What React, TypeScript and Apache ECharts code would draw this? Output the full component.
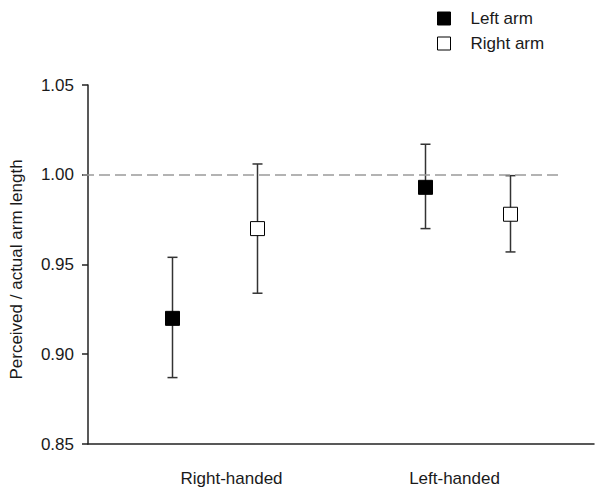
import React, { useEffect, useRef } from "react";
import * as echarts from "echarts";

const categories = ["Right-handed", "Left-handed"];
const leftArmMean = [0.920, 0.993];
const leftArmLow = [0.887, 0.970];
const leftArmHigh = [0.954, 1.017];
const rightArmMean = [0.970, 0.978];
const rightArmLow = [0.934, 0.957];
const rightArmHigh = [1.006, 0.9995];
const yTicks = { min: 0.85, max: 1.05, interval: 0.05 };
const referenceValue = 1.0;

const FONT = "'Liberation Sans', Arial, sans-serif";
const TEXT = "#1a1a1a";
const FS = 17;

function makeRender(offset: number, fill: string) {
  return (params: any, api: any) => {
    const idx = api.value(0);
    const c = api.coord([idx, api.value(1)]);
    const lo = api.coord([idx, api.value(2)]);
    const hi = api.coord([idx, api.value(3)]);
    const band = api.size([1, 0])[0];
    const x = Math.round(c[0] + offset * band) + 0.5;
    const cap = 5;
    const half = 7;
    const lineStyle = { stroke: "#333", lineWidth: 1.5 };
    return {
      type: "group",
      children: [
        { type: "line", shape: { x1: x, y1: hi[1], x2: x, y2: lo[1] }, style: lineStyle },
        { type: "line", shape: { x1: x - cap, y1: hi[1], x2: x + cap, y2: hi[1] }, style: lineStyle },
        { type: "line", shape: { x1: x - cap, y1: lo[1], x2: x + cap, y2: lo[1] }, style: lineStyle },
        {
          type: "rect",
          shape: { x: x - half, y: c[1] - half, width: half * 2, height: half * 2 },
          style: { fill, stroke: "#000", lineWidth: 1 },
        },
      ],
    };
  };
}

export default function App() {
  const ref = useRef<HTMLDivElement>(null);
  useEffect(() => {
    if (!ref.current) return;
    const chart = echarts.init(ref.current, null, { renderer: "svg" });
    const leftData = categories.map((_, i) => [i, leftArmMean[i], leftArmLow[i], leftArmHigh[i]]);
    const rightData = categories.map((_, i) => [i, rightArmMean[i], rightArmLow[i], rightArmHigh[i]]);
    chart.setOption({
      animation: false,
      backgroundColor: "#fff",
      textStyle: { fontFamily: FONT },
      grid: { left: 82, right: 6, top: 85, bottom: 48, containLabel: false },
      legend: {
        orient: "vertical",
        left: 432,
        top: 5,
        itemWidth: 13,
        itemHeight: 13,
        itemGap: 8,
        textStyle: { fontFamily: FONT, fontSize: FS, color: TEXT, padding: [0, 0, 0, 15] },
        data: [
          { name: "Left arm", icon: "rect", itemStyle: { color: "#000", borderColor: "#000", borderWidth: 1 } },
          { name: "Right arm", icon: "rect", itemStyle: { color: "#fff", borderColor: "#000", borderWidth: 1 } },
        ],
      },
      xAxis: {
        type: "category",
        data: categories,
        boundaryGap: true,
        axisLine: { lineStyle: { color: "#222", width: 1.5 } },
        axisTick: { show: false },
        axisLabel: {
          margin: 26,
          fontSize: FS,
          fontFamily: FONT,
          color: TEXT,
          formatter: (v: string, i: number) => (i === 0 ? `{a|${v}}` : `{b|${v}}`),
          rich: {
            a: { fontSize: FS, fontFamily: FONT, color: TEXT, padding: [0, 0, 0, 34] },
            b: { fontSize: FS, fontFamily: FONT, color: TEXT, padding: [0, 26, 0, 0] },
          },
        },
      },
      yAxis: {
        type: "value",
        min: yTicks.min,
        max: yTicks.max,
        interval: yTicks.interval,
        name: "Perceived / actual arm length",
        nameLocation: "middle",
        nameGap: 63,
        nameTextStyle: { fontSize: FS, fontFamily: FONT, color: TEXT, padding: [0, 0, 0, -10] },
        axisLine: { show: true, lineStyle: { color: "#222", width: 1.5 } },
        axisTick: { show: true, length: 6, lineStyle: { color: "#222", width: 1.5 } },
        splitLine: { show: false },
        axisLabel: {
          margin: 14,
          fontSize: FS,
          fontFamily: FONT,
          color: TEXT,
          formatter: (v: number) => v.toFixed(2),
        },
      },
      series: [
        {
          name: "Left arm",
          type: "custom",
          itemStyle: { color: "#000" },
          renderItem: makeRender(-0.168, "#000"),
          data: leftData,
          encode: { x: 0, y: [1, 2, 3] },
          z: 3,
          markLine: {
            silent: true,
            symbol: "none",
            label: { show: false },
            lineStyle: { color: "#9a9a9a", type: [11, 5], width: 1.5 },
            data: [[{ x: 83, yAxis: referenceValue }, { x: 561, yAxis: referenceValue }]],
          },
        },
        {
          name: "Right arm",
          type: "custom",
          itemStyle: { color: "#fff", borderColor: "#000" },
          renderItem: makeRender(0.168, "#fff"),
          data: rightData,
          encode: { x: 0, y: [1, 2, 3] },
          z: 3,
        },
      ],
    });
    return () => chart.dispose();
  }, []);
  return <div ref={ref} style={{ width: 600, height: 492, position: "absolute", left: 0, top: 0 }} />;
}
